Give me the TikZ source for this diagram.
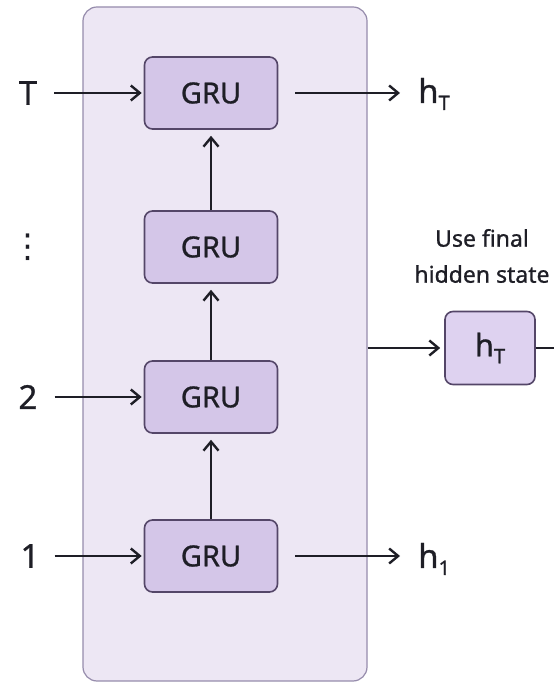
\documentclass[tikz,border=0pt]{standalone}
\usepackage{fontspec}
\setmainfont{Noto Sans}[FakeBold=0.9]
\newfontfamily\dejavu{DejaVu Sans}
\usetikzlibrary{arrows.meta,positioning}
\definecolor{panelfill}{RGB}{237,231,244}
\definecolor{paneldraw}{RGB}{150,140,172}
\definecolor{grufill}{RGB}{212,198,232}
\definecolor{finfill}{RGB}{222,210,240}
\definecolor{grudraw}{RGB}{84,70,104}
\definecolor{ink}{RGB}{30,30,38}
\newcommand{\lowT}[1]{\raisebox{-7pt}{\fontsize{20}{20}\selectfont #1}}

\begin{document}
\begin{tikzpicture}[x=1pt,y=1pt,
  gru/.style={draw=grudraw, line width=1.6pt, fill=grufill, rounded corners=8pt,
    minimum width=133pt, minimum height=72pt, font=\fontsize{29}{30}\selectfont, text=ink},
  lbl/.style={inner sep=0pt, font=\fontsize{33}{36}\selectfont, text=ink},
  flow/.style={ink, line width=2.4pt, -{Straight Barb[length=9pt,width=15pt]}}]
\useasboundingbox (0,0) rectangle (554,683);
\fill [white] (0,0) rectangle (554,683);

% the stacked cells
\node [draw=paneldraw, fill=panelfill, line width=1.2pt, rounded corners=14pt,
  minimum width=284pt, minimum height=674pt, inner sep=0pt] (stack) at (225,339) {};

\node [gru] (g1) at (211,127) {GRU};
\node [gru] (g2) at (211,286) {GRU};
\node [gru] (g3) at (211,436) {GRU};
\node [gru] (g4) at (211,590) {GRU};

\draw [flow, shorten >=6pt] (g1) -- (g2);
\draw [flow, shorten >=6pt] (g2) -- (g3);
\draw [flow, shorten >=6pt] (g3) -- (g4);

% inputs
\node [lbl] (in1) at (30,127) {1};
\node [lbl] (in2) at (28,286) {2};
\node [lbl] (in3) at (28,436) {\dejavu ⋮};
\node [lbl] (inT) at (28,590) {T};

\draw [flow, shorten <=15pt, shorten >=2pt] (in1) -- (g1);
\draw [flow, shorten <=17pt, shorten >=2pt] (in2) -- (g2);
\draw [flow, shorten <=17pt, shorten >=2pt] (inT) -- (g4);

% outputs
\node [lbl, anchor=base west] (out1) at (418,115) {h\lowT{1}};
\node [lbl, anchor=base west] (outT) at (418,580) {h\lowT{T}};

\draw [flow, shorten <=17pt, shorten >=18pt] (g1.east) -- (g1.east -| out1.west);
\draw [flow, shorten <=17pt, shorten >=18pt] (g4.east) -- (g4.east -| outT.west);

% final hidden state
\node [gru, fill=finfill, minimum width=90pt, minimum height=73pt,
  font=\fontsize{31}{32}\selectfont] (hfin) at (490,335) {h\lowT{T}};
\node [font=\fontsize{23}{36}\selectfont, align=center, text=ink] (note) at (482,427) {Use final\\hidden state};
\coordinate (edge) at (554,335);

\draw [flow, shorten >=4pt] (stack.east |- hfin) -- (hfin);
\draw [ink, line width=2.4pt] (hfin) -- (edge);
\end{tikzpicture}
\end{document}
